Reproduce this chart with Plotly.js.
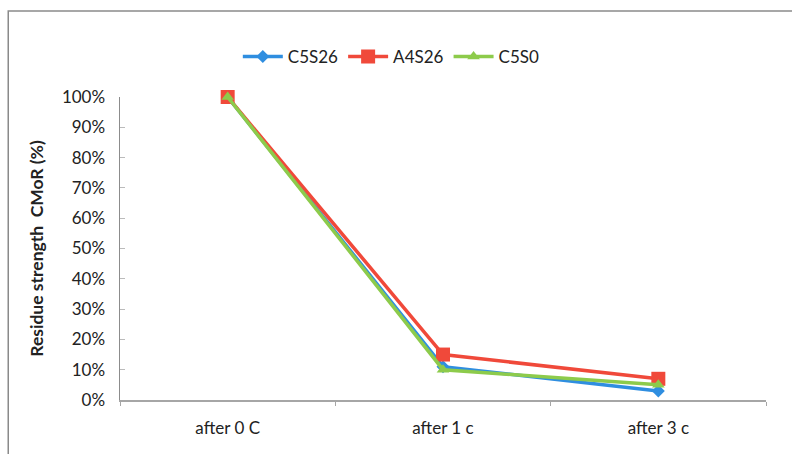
<!DOCTYPE html>
<html>
<head>
<meta charset="utf-8">
<script src="https://cdn.plot.ly/plotly-3.0.1.min.js"></script>
<style>
  html, body { margin: 0; padding: 0; background: #fff; }
  #chart { width: 792px; height: 454px; }
</style>
</head>
<body>
<div id="chart"></div>
<script>
// Residual strength after freeze-thaw cycles
const categories = ['after 0 C', 'after 1 c', 'after 3 c'];
const seriesNames = ['C5S26', 'A4S26', 'C5S0'];
const c5s26 = [1.00, 0.11, 0.03];
const a4s26 = [1.00, 0.15, 0.07];
const c5s0  = [1.00, 0.10, 0.05];
const yTickVals = [0, 0.1, 0.2, 0.3, 0.4, 0.5, 0.6, 0.7, 0.8, 0.9, 1.0];
const yTickText = ['0%', '10%', '20%', '30%', '40%', '50%', '60%', '70%', '80%', '90%', '100%'];

const font = 'Lato, "Open Sans", sans-serif';

const traces = [
  {
    name: seriesNames[0], x: categories, y: c5s26, type: 'scatter', mode: 'lines+markers',
    line: { color: '#2f8ee0', width: 3.5 },
    marker: { symbol: 'diamond', size: 10, color: '#2f8ee0' },
    cliponaxis: false
  },
  {
    name: seriesNames[1], x: categories, y: a4s26, type: 'scatter', mode: 'lines+markers',
    line: { color: '#f0493a', width: 3.5 },
    marker: { symbol: 'square', size: 14, color: '#f0493a' },
    cliponaxis: false
  },
  {
    name: seriesNames[2], x: categories, y: c5s0, type: 'scatter', mode: 'lines+markers',
    line: { color: '#8dcb4b', width: 3.5 },
    marker: { symbol: 'triangle-up', size: 11, color: '#8dcb4b' },
    cliponaxis: false
  }
];

const layout = {
  width: 792, height: 454,
  margin: { l: 120, r: 26, t: 97, b: 54 },
  paper_bgcolor: '#fff', plot_bgcolor: '#fff',
  font: { family: font, size: 17, color: '#222' },
  showlegend: true,
  legend: {
    orientation: 'h', x: 0.42, xanchor: 'center', y: 1.132, yanchor: 'middle',
    font: { family: font, size: 17, color: '#222' },
    itemwidth: 40, tracegroupgap: 0
  },
  xaxis: {
    type: 'category', range: [-0.5, 2.5],
    showline: true, linecolor: '#a6a6a6', linewidth: 2,
    ticks: 'outside', tickson: 'boundaries', ticklen: 4, tickcolor: '#a6a6a6',
    ticklabelstandoff: 12,
    showgrid: false, zeroline: false,
    tickfont: { family: font, size: 17, color: '#222' }
  },
  yaxis: {
    range: [0, 1], tickvals: yTickVals, ticktext: yTickText,
    showline: true, linecolor: '#8c8c8c', linewidth: 1.5,
    ticks: 'inside', ticklen: 5, tickcolor: '#bbb',
    ticklabelstandoff: 10,
    showgrid: false, zeroline: false,
    tickfont: { family: font, size: 17, color: '#222' },
    title: { text: '<b>Residue strength  CMoR (%)</b>', font: { family: font, size: 17.5, color: '#222' }, standoff: 14 }
  },
  shapes: [
    {
      type: 'rect', xref: 'paper', yref: 'paper',
      x0: -0.173, x1: 1.5, y0: -0.6, y1: 1.284,
      line: { color: '#8a8a8a', width: 1.5 }, layer: 'below'
    }
  ]
};

Plotly.newPlot('chart', traces, layout, { staticPlot: true, displayModeBar: false });
</script>
</body>
</html>
